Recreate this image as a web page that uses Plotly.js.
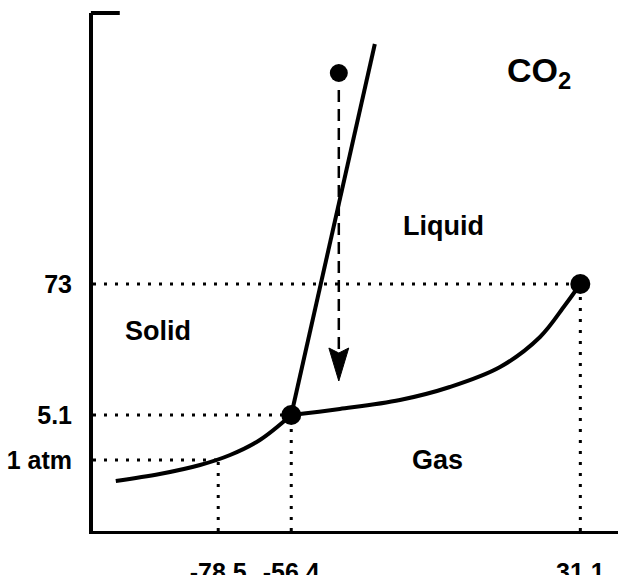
<!DOCTYPE html>
<html>
<head>
<meta charset="utf-8">
<script src="https://cdn.plot.ly/plotly-3.0.1.min.js"></script>
<style>html,body{margin:0;padding:0;background:#fff;}#chart{width:618px;height:575px;}</style>
</head>
<body>
<div id="chart"></div>
<script>
// Temperatures (°C) on the x axis; pressure drawn on a schematic (non-linear) vertical scale
var xTickVals = [-78.5, -56.4, 31.1];
var xTickText = ['-78.5', '-56.4', '31.1'];
var yTickVals = [71, 116, 247];            // schematic positions of the pressure levels
var yTickText = ['1 atm', '5.1', '73'];

// Triple point and critical point
var tripleT = -56.4, tripleY = 116;
var criticalT = 31.1, criticalY = 247;
var sublimT = -78.5, sublimY = 71;

// Sublimation curve (solid-gas)
var sublimCurveT = [-109.5, -96.2, -84.0, -74.9, -65.9, -56.4];
var sublimCurveY = [50, 57, 66, 76, 91, 116];

// Vaporization curve (liquid-gas)
var vapCurveT = [-56.4, -41.7, -23.5, -8.4, 6.8, 18.9, 26.5, 31.1];
var vapCurveY = [116, 122, 131, 144, 164, 194, 226, 247];

// Melting line (solid-liquid)
var meltT = [-56.4, -31.1];
var meltY = [116, 487];

// Starting state and the dashed path of decompression
var startT = -42.0, startY = 458;
var pathT = [-42.0, -42.0];
var pathY = [441, 181];
var arrowT = [-45.0, -42.0, -39.0, -42.0, -45.0];
var arrowY = [183, 178, 183, 150, 183];

var xMin = -116.4, xMax = 42.5, yMin = 0, yMax = 518;

var dotLine = {color: '#000', width: 3, dash: '3px,8px'};
var traces = [
  // dotted guide lines
  {x: [xMin, criticalT], y: [criticalY, criticalY], mode: 'lines', line: dotLine},
  {x: [xMin, tripleT], y: [tripleY, tripleY], mode: 'lines', line: dotLine},
  {x: [xMin, sublimT], y: [sublimY, sublimY], mode: 'lines', line: dotLine},
  {x: [sublimT, sublimT], y: [yMin, sublimY], mode: 'lines', line: dotLine},
  {x: [tripleT, tripleT], y: [yMin, tripleY], mode: 'lines', line: dotLine},
  {x: [criticalT, criticalT], y: [yMin, criticalY], mode: 'lines', line: dotLine},
  // phase boundaries
  {x: sublimCurveT, y: sublimCurveY, mode: 'lines', line: {color: '#000', width: 4, shape: 'spline'}},
  {x: vapCurveT, y: vapCurveY, mode: 'lines', line: {color: '#000', width: 4, shape: 'spline'}},
  {x: meltT, y: meltY, mode: 'lines', line: {color: '#000', width: 4}},
  // dashed path with arrowhead
  {x: pathT, y: pathY, mode: 'lines', line: {color: '#000', width: 2.5, dash: '12px,7px'}},
  {x: arrowT, y: arrowY, mode: 'lines', fill: 'toself', fillcolor: '#000', line: {color: '#000', width: 1}},
  // points
  {x: [tripleT, criticalT], y: [tripleY, criticalY], mode: 'markers', marker: {color: '#000', size: 20}},
  {x: [startT], y: [startY], mode: 'markers', marker: {color: '#000', size: 18}}
];

var font = {family: '"Liberation Sans", Arial, sans-serif', color: '#000', weight: 'bold'};
function f(size) { return Object.assign({}, font, {size: size}); }

var layout = {
  width: 618, height: 575,
  margin: {l: 93, r: 0, t: 13, b: 44},
  paper_bgcolor: '#fff', plot_bgcolor: '#fff',
  showlegend: false,
  xaxis: {
    range: [xMin, xMax], tickvals: xTickVals, ticktext: xTickText,
    showgrid: false, zeroline: false, showline: true, linecolor: '#000', linewidth: 3,
    ticks: '', tickfont: f(25), ticklabelstandoff: 17
  },
  yaxis: {
    range: [yMin, yMax], tickvals: yTickVals, ticktext: yTickText,
    showgrid: false, zeroline: false, showline: true, linecolor: '#000', linewidth: 4,
    ticks: '', tickfont: f(25), ticklabelstandoff: 12
  },
  shapes: [
    {type: 'line', xref: 'paper', yref: 'paper', x0: -0.004, x1: 0.051, y0: 1, y1: 1,
     line: {color: '#000', width: 4}}
  ],
  annotations: [
    {x: -10.2, y: 305, text: 'Liquid', showarrow: false, font: f(27)},
    {x: -96.8, y: 200, text: 'Solid', showarrow: false, font: f(27)},
    {x: -12.0, y: 71, text: 'Gas', showarrow: false, font: f(27)},
    {x: 8.3, y: 459, xanchor: 'left', text: 'CO<sub>2</sub>', showarrow: false, font: f(34)}
  ]
};

Plotly.newPlot('chart', traces, layout, {displayModeBar: false, staticPlot: true});
</script>
</body>
</html>
